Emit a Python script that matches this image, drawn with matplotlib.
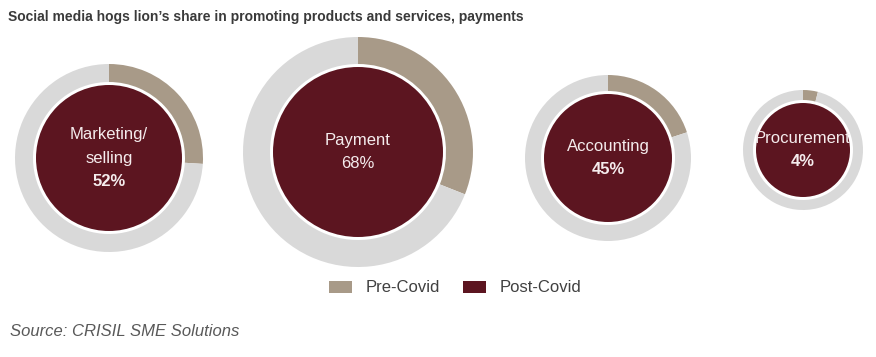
import matplotlib.pyplot as plt
from matplotlib.patches import Circle, Patch

W, H = 876, 357

# data
names = ['Marketing/\nselling', 'Payment', 'Accounting', 'Procurement']
post_covid = [52, 68, 45, 4]
pre_covid = [26, 31, 20, 4]
bold_pct = [True, False, True, True]

# layout (pixels): centre x, centre y, outer radius, inner radius
cx = [109, 358, 608, 803]
cy = [158, 152, 158, 150]
R = [94, 115, 83, 60]
r = [73, 85, 64, 47]

TAN = '#a89a88'
MAROON = '#5c1520'
GRAY = '#d9d9d9'
TXT = '#f5eced'

plt.rcParams['font.family'] = ['Liberation Sans', 'DejaVu Sans']
fig = plt.figure(figsize=(W / 100, H / 100), dpi=100)

for i in range(len(names)):
    ax = fig.add_axes([(cx[i] - R[i]) / W, (H - cy[i] - R[i]) / H,
                       2 * R[i] / W, 2 * R[i] / H])
    ring_w = (R[i] - r[i] - 3) / R[i]
    ax.pie([pre_covid[i], 100 - pre_covid[i]], colors=[TAN, GRAY],
           startangle=90, counterclock=False, radius=1,
           wedgeprops=dict(width=ring_w, linewidth=0))
    ax.add_patch(Circle((0, 0), r[i] / R[i], color=MAROON, lw=0))
    ax.set_xlim(-1, 1)
    ax.set_ylim(-1, 1)
    ax.axis('off')

    lines = names[i].split('\n') + ['%d%%' % post_covid[i]]
    n = len(lines)
    for j, line in enumerate(lines):
        dy = -(j - (n - 1) / 2) * 23 * 0.72
        is_pct = j == n - 1
        ax.annotate(line, xy=(0, 0), xytext=(0, dy), textcoords='offset points',
                    ha='center', va='center', color=TXT, fontsize=12,
                    fontweight='bold' if (is_pct and bold_pct[i]) else 'normal')

fig.text(8 / W, 1 - 17 / H, 'Social media hogs lion\u2019s share in promoting products and services, payments',
         fontsize=10, fontweight='bold', color='#3a3a3a', va='center', ha='left')

handles = [Patch(facecolor=TAN, edgecolor='none', label='Pre-Covid'),
           Patch(facecolor=MAROON, edgecolor='none', label='Post-Covid')]
fig.legend(handles=handles, loc='center', bbox_to_anchor=(455 / W, 1 - 288 / H),
           ncol=2, frameon=False, fontsize=12, handlelength=1.4, handleheight=0.75,
           handletextpad=0.8, columnspacing=1.4, labelcolor='#404040')

fig.text(10 / W, 1 - 331 / H, 'Source: CRISIL SME Solutions', fontsize=12,
         style='italic', color='#595959', va='center', ha='left')

fig.savefig('out.png', dpi=100)
